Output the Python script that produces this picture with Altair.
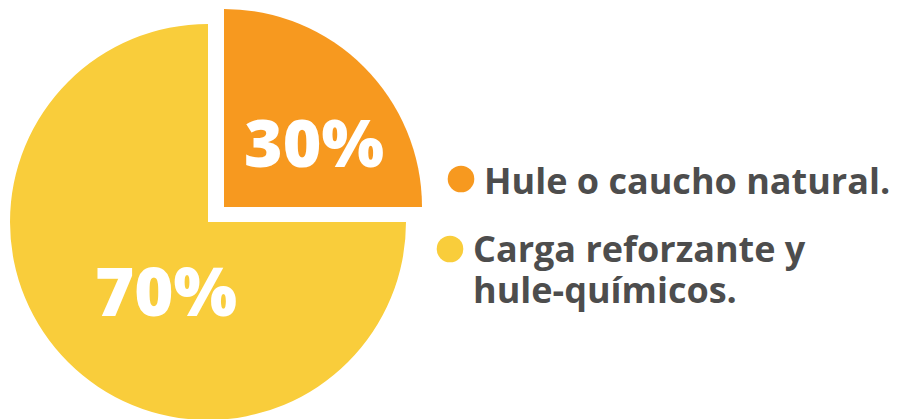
import altair as alt
import pandas as pd

# ---- data ----
categories = ["Hule o caucho natural.", "Carga reforzante y hule-químicos."]
legend_text = ["Hule o caucho natural.", "Carga reforzante y\nhule-químicos."]
percent_labels = ["30%", "70%"]
slice_share = [25, 75]          # the drawn orange slice is a quarter of the pie
slice_order = [0, 1]
colors = ["#F7991F", "#F9CD3B"]

df = pd.DataFrame({
    "cat": categories,
    "share": slice_share,
    "label": percent_labels,
    "legend": legend_text,
    "idx": slice_order,
})

color = alt.Color("cat:N", scale=alt.Scale(domain=categories, range=colors), legend=None)
base = alt.Chart(df)

FONT_NUM = "Open Sans"
FONT_TXT = "Open Sans"
TXT_COLOR = "#4D4D4D"


def pie(cx, cy, keep_idx):
    return base.mark_arc(radius=198).encode(
        theta=alt.Theta("share:Q", stack=True),
        order=alt.Order("idx:Q"),
        color=color,
        opacity=alt.condition(f"datum.idx == {keep_idx}", alt.value(1), alt.value(0)),
        x=alt.value(cx),
        y=alt.value(cy),
    )


yellow = pie(200, 214, 1)
orange = pie(216, 199, 0)


def pct(idx, x, y, size):
    return base.transform_filter(f"datum.idx == {idx}").mark_text(
        font=FONT_NUM, fontWeight=800, fontSize=size, color="white",
        align="center", baseline="alphabetic",
    ).encode(text="label:N", x=alt.value(x), y=alt.value(y))


lab30 = pct(0, 306, 159, 66)
lab70 = pct(1, 158, 308, 67)


def dot(idx, x, y):
    return base.transform_filter(f"datum.idx == {idx}").mark_circle(size=707, opacity=1).encode(
        color=color, x=alt.value(x), y=alt.value(y)
    )


def legtext(idx, x, y):
    return base.transform_filter(f"datum.idx == {idx}").mark_text(
        font=FONT_TXT, fontWeight="bold", fontSize=36, color=TXT_COLOR,
        align="left", baseline="alphabetic", lineBreak="\n", lineHeight=41,
    ).encode(text="legend:N", x=alt.value(x), y=alt.value(y))


chart = alt.layer(
    yellow, orange, lab30, lab70,
    dot(0, 453, 171), dot(1, 442, 241),
    legtext(0, 476, 186), legtext(1, 465, 254),
).properties(
    width=884, height=411, padding=0, autosize=alt.AutoSizeParams(type="none")
).configure_view(stroke=None)

chart.save("out.html", embed_options={"renderer": "svg", "actions": False})
